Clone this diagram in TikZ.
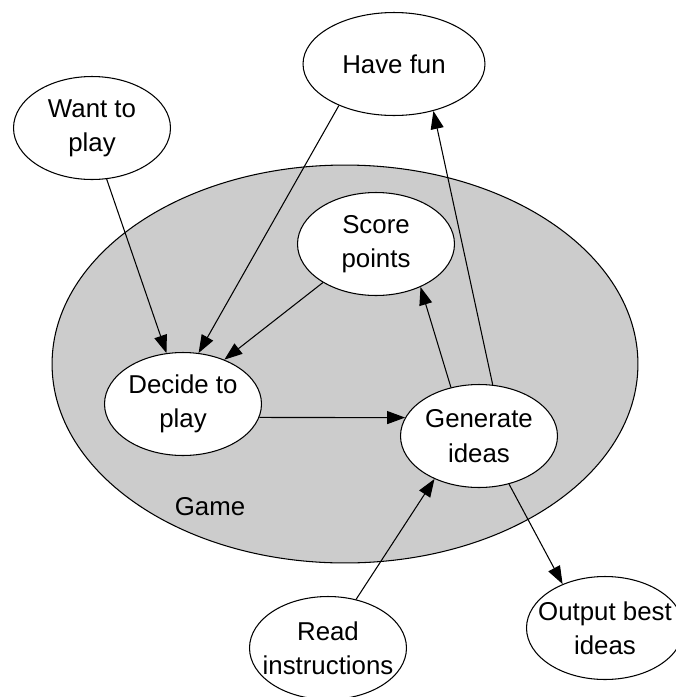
\documentclass[tikz,border=0pt]{standalone}
\usepackage{fontspec}
\setmainfont{Liberation Sans}
\usetikzlibrary{shapes.geometric,arrows.meta}

\begin{document}
\begin{tikzpicture}[x=0.02cm,y=-0.02cm,semithick,
  every node/.style={draw,ellipse,fill=white,align=center,inner xsep=-0.5cm,inner ysep=0pt,minimum width=3.14cm,minimum height=2.06cm,font=\fontsize{14.7}{19.5}\selectfont},
  flow/.style={-{Triangle[length=3.6mm,width=2.6mm]}}]
\useasboundingbox (0,0) rectangle (676,697);
\node [fill=gray!40,minimum width=11.72cm,minimum height=7.96cm] (Game) at (345,364) {};
\node [draw=none,fill=none,minimum width=0,minimum height=0,inner sep=0pt] (GameLabel) at (210,507) {Game};
\node (WantToPlay) at (92,128) {Want to\\play};
\node [minimum width=3.64cm] (HaveFun) at (394,64) {Have fun};
\node (ScorePoints) at (376,244) {Score\\points};
\node (DecideToPlay) at (183,404) {Decide to\\play};
\node (GenerateIdeas) at (479,436) {Generate\\ideas};
\node (ReadInstructions) at (328,648) {Read\\instructions};
\node (OutputBestIdeas) at (605,628) {Output best\\ideas};
\draw [flow] (WantToPlay.-74) -- (DecideToPlay.108);
\draw [flow] (HaveFun.217) -- (DecideToPlay.73);
\draw [flow] (ScorePoints.216) -- (DecideToPlay.47);
\draw [flow] (DecideToPlay.-10) -- (GenerateIdeas.166);
\draw [flow] (GenerateIdeas.120) -- (ScorePoints.-44);
\draw [flow] (GenerateIdeas.75) -- (HaveFun.-50);
\draw [flow] (ReadInstructions.60) -- (GenerateIdeas.-136);
\draw [flow] (GenerateIdeas.-58) -- (OutputBestIdeas.134);
\end{tikzpicture}
\end{document}
